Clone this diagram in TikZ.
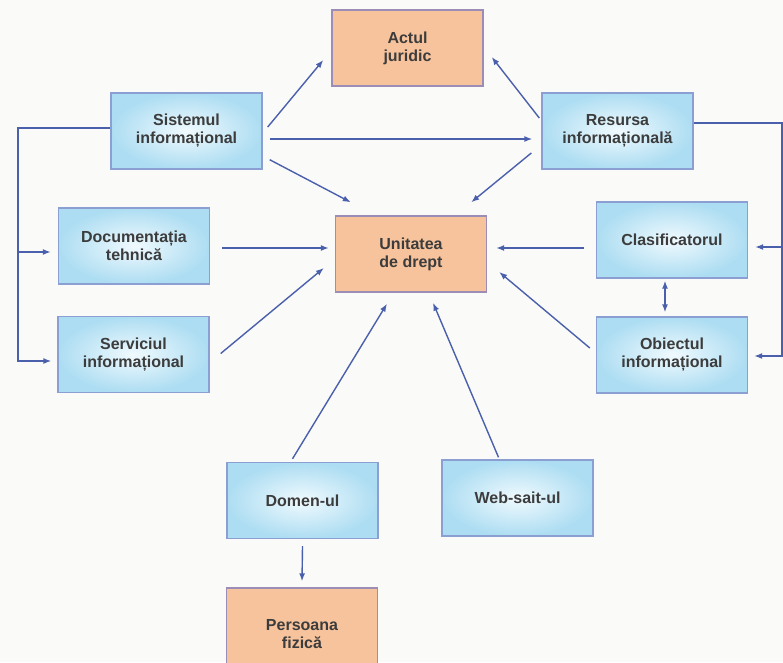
\documentclass[tikz,border=0pt]{standalone}
\usepackage{fontspec}
\setmainfont{Liberation Sans}
\usetikzlibrary{arrows.meta}
\definecolor{paper}{HTML}{FAFAF8}
\definecolor{linkblue}{HTML}{4B60AC}
\definecolor{boxedge}{HTML}{8C9FD2}
\definecolor{boxout}{HTML}{ADDDF2}
\definecolor{boxin}{HTML}{F0FAFE}
\definecolor{lawfill}{HTML}{F7C39C}
\definecolor{lawedge}{HTML}{9C8DB6}
\definecolor{inkgrey}{HTML}{3C3C3C}
\begin{document}
\begin{tikzpicture}[thick,x=1pt,y=-1pt,
  cell/.style={rectangle,minimum width=151pt,minimum height=76pt,inner sep=0pt,
    line width=1.4pt,align=center,text=inkgrey,font=\bfseries\fontsize{16}{18}\selectfont},
  infobox/.style={cell,draw=boxedge,inner color=boxin,outer color=boxout},
  lawbox/.style={cell,draw=lawedge,fill=lawfill},
  link/.style={draw=linkblue,line width=1.4pt},
  arr/.style={link,-{Latex[length=8pt,width=6pt]}}]
\useasboundingbox (0,0) rectangle (783,662);
\clip (0,0) rectangle (783,662);
\fill[paper] (0,0) rectangle (783,662);
\node[lawbox] (AJ) at (407.5,48) {Actul\\juridic};
\node[infobox] (SI) at (186.5,131) {Sistemul\\informațional};
\node[infobox] (RI) at (617.5,131) {Resursa\\informațională};
\node[lawbox] (UD) at (411,254) {Unitatea\\de drept};
\node[infobox] (DT) at (134,246) {Documentația\\tehnică};
\node[infobox] (CL) at (672,240) {Clasificatorul};
\node[infobox] (SV) at (133.5,354.5) {Serviciul\\informațional};
\node[infobox] (OI) at (672,355) {Obiectul\\informațional};
\node[infobox] (DM) at (302.5,500.5) {Domen-ul};
\node[infobox] (WS) at (517.5,498) {Web-sait-ul};
\node[lawbox,minimum height=92pt] (PF) at (302,634) {Persoana\\fizică};
\coordinate (L1) at (18,128);
\coordinate (L2) at (18,361);
\coordinate (R1) at (782,123);
\coordinate (R2) at (782,356);
\draw[arr] ([shift={(5,-4)}]SI.east) -- ([shift={(-8,12)}]AJ.west);
\draw[arr] ([shift={(7,8)}]SI.east) -- ([shift={(-9,8)}]RI.west);
\draw[arr] ([shift={(7,-10)}]SI.south east) -- ([shift={(16,-13)}]UD.north west);
\draw[arr] ([shift={(-2,-13)}]RI.west) -- ([shift={(8,9)}]AJ.east);
\draw[arr] ([shift={(-10,22)}]RI.west) -- ([shift={(-16,-13)}]UD.north east);
\draw[arr] ([shift={(12,2)}]DT.east) -- ([shift={(-6,-6)}]UD.west);
\draw[arr] ([shift={(11,-1)}]SV.east) -- ([shift={(-11,14)}]UD.west);
\draw[arr] ([shift={(-12,8)}]CL.west) -- ([shift={(9,-6)}]UD.east);
\draw[arr] ([shift={(-6,-7)}]OI.west) -- ([shift={(12,18)}]UD.east);
\draw[arr,{Latex[length=8pt,width=6pt]}-{Latex[length=8pt,width=6pt]}] ([shift={(-7,2)}]CL.south) -- ([shift={(-7,-4)}]OI.north);
\draw[arr] ([shift={(-10,-3)}]DM.north) -- ([shift={(-24,11)}]UD.south);
\draw[arr] ([shift={(-19,-2)}]WS.north) -- ([shift={(22,10)}]UD.south);
\draw[arr] ([shift={(0,7)}]DM.south) -- ([shift={(0,-6)}]PF.north);
\draw[arr] ([shift={(0,-3)}]SI.west) -- (L1) -- (L2) -- ([shift={(-6,6.5)}]SV.west);
\draw[arr] ([shift={(-41,6)}]DT.west) -- ([shift={(-7,6)}]DT.west);
\draw[arr] ([shift={(0,-8)}]RI.east) -- (R1) -- (R2) -- ([shift={(6,1)}]OI.east);
\draw[arr] ([shift={(35,7)}]CL.east) -- ([shift={(7,7)}]CL.east);
\end{tikzpicture}
\end{document}
